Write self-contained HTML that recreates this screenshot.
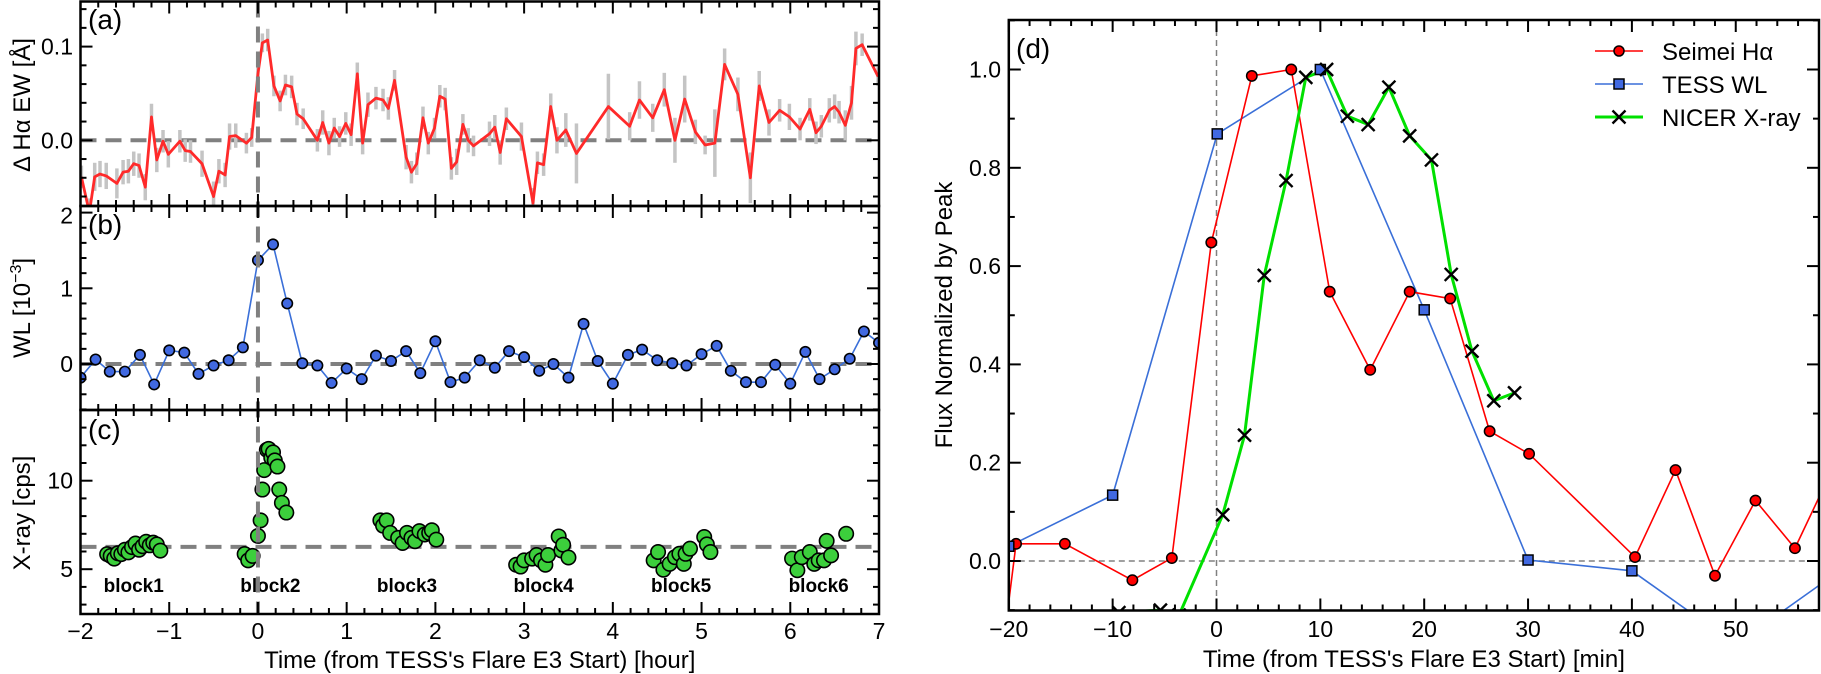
<!DOCTYPE html>
<html><head><meta charset="utf-8">
<style>
html,body{margin:0;padding:0;background:#fff;}
svg{display:block;font-family:"Liberation Sans",sans-serif;}
</style></head>
<body>
<svg id="fig" width="1821" height="674" viewBox="0 0 1821 674" xmlns="http://www.w3.org/2000/svg"></svg>
<script>
// ---------- Panel (a): delta H-alpha EW ----------
const haTime = [-1.99,-1.90,-1.84,-1.78,-1.71,-1.59,-1.52,-1.46,-1.40,-1.34,-1.27,-1.20,-1.14,-1.07,-1.01,-0.88,-0.82,-0.76,-0.63,-0.50,-0.44,-0.37,-0.32,-0.25,-0.13,-0.07,0.0,0.05,0.11,0.18,0.25,0.31,0.38,0.44,0.51,0.67,0.73,0.80,0.86,0.92,0.99,1.05,1.12,1.18,1.24,1.33,1.41,1.47,1.54,1.67,1.73,1.79,1.86,1.92,1.99,2.05,2.11,2.18,2.24,2.31,2.37,2.43,2.61,2.67,2.73,2.80,2.97,3.10,3.15,3.22,3.30,3.37,3.47,3.59,3.95,4.19,4.30,4.45,4.58,4.70,4.81,4.93,5.04,5.15,5.26,5.41,5.55,5.65,5.76,5.88,5.99,6.11,6.22,6.29,6.35,6.44,6.50,6.55,6.62,6.69,6.74,6.81,6.99];
const haEW = [-0.039,-0.077,-0.039,-0.036,-0.038,-0.046,-0.034,-0.033,-0.025,-0.027,-0.050,0.025,-0.021,-0.001,-0.015,-0.001,-0.011,-0.012,-0.025,-0.060,-0.033,-0.037,0.004,0.005,-0.003,0.003,0.071,0.104,0.107,0.058,0.042,0.059,0.057,0.028,0.023,0.000,0.019,-0.003,0.013,0.004,0.018,0.006,0.071,-0.003,0.038,0.045,0.043,0.034,0.064,-0.018,-0.034,-0.025,0.024,-0.003,0.013,0.047,0.044,-0.030,-0.023,0.017,0.000,-0.006,0.007,0.014,-0.013,0.023,0.004,-0.067,-0.024,-0.026,0.036,0.000,0.011,-0.014,0.036,0.015,0.043,0.024,0.054,0.000,0.044,0.009,-0.005,-0.003,0.081,0.049,-0.040,0.058,0.019,0.032,0.025,0.012,0.033,0.008,0.015,0.032,0.036,0.030,0.016,0.040,0.098,0.102,0.068];
const haErr = [0.012,0.015,0.015,0.014,0.014,0.016,0.013,0.013,0.013,0.013,0.014,0.014,0.013,0.012,0.014,0.012,0.012,0.012,0.014,0.016,0.013,0.013,0.014,0.013,0.011,0.010,0.010,0.010,0.012,0.011,0.011,0.011,0.012,0.012,0.011,0.012,0.013,0.013,0.011,0.011,0.012,0.012,0.012,0.012,0.013,0.012,0.012,0.012,0.011,0.013,0.012,0.012,0.012,0.012,0.011,0.012,0.012,0.012,0.014,0.011,0.013,0.011,0.013,0.013,0.013,0.012,0.015,0.016,0.012,0.012,0.014,0.014,0.018,0.032,0.035,0.015,0.020,0.015,0.018,0.024,0.025,0.013,0.010,0.036,0.017,0.018,0.027,0.016,0.014,0.012,0.014,0.012,0.012,0.012,0.012,0.013,0.013,0.012,0.016,0.018,0.018,0.012,0.010];
// ---------- Panel (b): TESS WL ----------
const wlTime = [-2.0,-1.83,-1.67,-1.5,-1.33,-1.17,-1.0,-0.83,-0.67,-0.5,-0.33,-0.17,0.0,0.17,0.33,0.5,0.67,0.83,1.0,1.17,1.33,1.5,1.67,1.83,2.0,2.17,2.33,2.5,2.67,2.83,3.0,3.17,3.33,3.5,3.67,3.83,4.0,4.17,4.33,4.5,4.67,4.83,5.0,5.17,5.33,5.5,5.67,5.83,6.0,6.17,6.33,6.5,6.67,6.83,7.0];
const wlFlux = [-0.18,0.06,-0.10,-0.10,0.12,-0.27,0.18,0.15,-0.13,-0.02,0.05,0.22,1.37,1.58,0.80,0.01,-0.02,-0.25,-0.06,-0.20,0.11,0.04,0.17,-0.12,0.30,-0.24,-0.18,0.05,-0.05,0.17,0.09,-0.09,0.00,-0.18,0.53,0.04,-0.26,0.12,0.19,0.05,0.01,-0.02,0.13,0.24,-0.09,-0.24,-0.24,-0.01,-0.26,0.16,-0.20,-0.07,0.07,0.43,0.28];
// ---------- Panel (c): NICER X-ray ----------
const xrTime = [-1.70,-1.66,-1.62,-1.58,-1.54,-1.50,-1.46,-1.42,-1.38,-1.34,-1.30,-1.26,-1.22,-1.18,-1.14,-1.10,
 -0.15,-0.11,-0.06,0.0,0.03,0.05,0.07,0.10,0.12,0.15,0.17,0.19,0.22,0.24,0.27,0.32,
 1.38,1.41,1.45,1.49,1.58,1.63,1.68,1.73,1.77,1.82,1.88,1.93,1.96,2.01,
 2.91,2.96,3.00,3.09,3.14,3.19,3.24,3.27,3.39,3.42,3.44,3.50,
 4.46,4.51,4.57,4.64,4.70,4.75,4.80,4.82,4.87,5.03,5.06,5.10,
 6.02,6.08,6.13,6.22,6.27,6.32,6.38,6.41,6.46,6.63];
const xrRate = [5.85,5.75,5.60,5.90,5.85,6.10,5.95,6.25,6.45,6.10,6.30,6.55,6.35,6.50,6.40,6.05,
 5.86,5.50,5.75,6.88,7.76,9.50,10.60,11.75,11.80,11.30,11.60,11.15,10.80,9.50,8.75,8.20,
 7.76,7.46,7.76,7.05,6.77,6.48,7.05,6.77,6.58,7.15,6.96,7.05,7.20,6.67,
 5.25,5.15,5.50,5.60,5.80,5.50,5.25,5.80,6.85,6.06,6.38,5.66,
 5.50,5.97,4.97,5.30,5.68,5.87,5.30,5.87,6.16,6.82,6.40,5.97,
 5.60,4.94,5.68,5.97,5.30,5.50,5.50,6.60,5.78,7.00];
const blockNames = ["block1","block2","block3","block4","block5","block6"];
const blockPos = [-1.4,0.14,1.68,3.22,4.77,6.32];
// ---------- Panel (d) ----------
const sTime = [-21,-19.3,-14.6,-8.1,-4.3,-0.5,3.4,7.2,10.9,14.8,18.6,22.5,26.3,30.1,40.3,44.2,48.0,51.9,55.7,59.6];
const sFlux = [-0.25,0.035,0.035,-0.039,0.006,0.648,0.987,1.0,0.548,0.389,0.548,0.534,0.264,0.218,0.008,0.185,-0.030,0.123,0.026,0.20];
const tTime = [-20,-10,0.07,10,20,30,40,50,60];
const tFlux = [0.03,0.134,0.869,1.0,0.511,0.002,-0.02,-0.17,-0.02];
const nTime = [-9.4,-5.4,-3.6,0.6,2.7,4.6,6.7,8.6,10.6,12.6,14.6,16.6,18.6,20.7,22.6,24.6,26.7,28.7];
const nFlux = [-0.105,-0.10,-0.11,0.094,0.256,0.581,0.774,0.984,1.0,0.905,0.888,0.964,0.865,0.816,0.583,0.427,0.326,0.342];
const xTicksH = [-2,-1,0,1,2,3,4,5,6,7];
const xTicksM = [-20,-10,0,10,20,30,40,50];
const yTicksD = [0.0,0.2,0.4,0.6,0.8,1.0];

const NS = "http://www.w3.org/2000/svg";
const svg = document.getElementById('fig');
function mk(tag, attrs, parent){
  const e = document.createElementNS(NS, tag);
  for (const k in attrs) e.setAttribute(k, attrs[k]);
  (parent||svg).appendChild(e);
  return e;
}
function txt(s, x, y, size, anchor, parent, extra){
  const e = mk('text', Object.assign({x:x, y:y, 'font-size':size, 'text-anchor':anchor||'middle', fill:'#000'}, extra||{}), parent);
  e.textContent = s;
  return e;
}
const TF = 23, AF = 24;
// scales
const LX0=80.5, LX1=879;
const X = h => LX0 + (h+2)*(LX1-LX0)/9;
const Ya = v => 140.3 - v*937;
const Yb = v => 364 - v*75.7;
const Yc = v => 480.7 - (v-10)*17.7;
const Xr = m => 1216.5 + m*10.385;
const Yr = v => 561 - v*491.5;
const RX0=1008.8, RX1=1819, RY0=20, RY1=610.5;

const defs = mk('defs', {});
function clip(id,x,y,w,h){ const c=mk('clipPath',{id:id},defs); mk('rect',{x:x,y:y,width:w,height:h},c); }
clip('ca',LX0,1.5,LX1-LX0,204.5);
clip('cb',LX0,206,LX1-LX0,204);
clip('cc',LX0,410,LX1-LX0,204);
clip('cd',RX0,RY0,RX1-RX0,RY1-RY0);

// ===== Panel (a) =====
const ga = mk('g',{'clip-path':'url(#ca)'});


let z = mk('line',{x1:LX0,x2:LX1,y1:Ya(0),y2:Ya(0),stroke:'#808080','stroke-width':4,'stroke-dasharray':'16,9'},ga);


for (let i=0;i<haTime.length;i++){
  const e = mk('line',{x1:X(haTime[i]),x2:X(haTime[i]),y1:Ya(haEW[i]-haErr[i]),y2:Ya(haEW[i]+haErr[i]),stroke:'#c4c4c4','stroke-width':3.5},ga);
  
  
}
const haLine = mk('polyline',{points:haTime.map((t,i)=>X(t)+','+Ya(haEW[i])).join(' '),fill:'none',stroke:'#ff2a2a','stroke-width':2.8,'stroke-linejoin':'round'},ga);



// ===== Panel (b) =====
const gb = mk('g',{'clip-path':'url(#cb)'});


z = mk('line',{x1:LX0,x2:LX1,y1:Yb(0),y2:Yb(0),stroke:'#808080','stroke-width':4,'stroke-dasharray':'16,9'},gb);


for (let i=0;i<wlTime.length;i++){
  const e = mk('line',{x1:X(wlTime[i]),x2:X(wlTime[i]),y1:Yb(wlFlux[i]-0.07),y2:Yb(wlFlux[i]+0.07),stroke:'#3a6fd8','stroke-width':1.2},gb);
  
  
}
const wlLine = mk('polyline',{points:wlTime.map((t,i)=>X(t)+','+Yb(wlFlux[i])).join(' '),fill:'none',stroke:'#3a6fd8','stroke-width':1.6},gb);


for (let i=0;i<wlTime.length;i++){
  const c = mk('circle',{cx:X(wlTime[i]),cy:Yb(wlFlux[i]),r:5.2,fill:'#4169e1',stroke:'#000','stroke-width':1.6},gb);
  
  
}

// ===== Panel (c) =====
const gc = mk('g',{'clip-path':'url(#cc)'});


z = mk('line',{x1:LX0,x2:LX1,y1:Yc(6.26),y2:Yc(6.26),stroke:'#808080','stroke-width':4,'stroke-dasharray':'16,9'},gc);


for (let i=0;i<xrTime.length;i++){
  const e = mk('line',{x1:X(xrTime[i]),x2:X(xrTime[i]),y1:Yc(xrRate[i]-0.35),y2:Yc(xrRate[i]+0.35),stroke:'#000','stroke-width':1.5},gc);
  
  
}
for (let i=0;i<xrTime.length;i++){
  const c = mk('circle',{cx:X(xrTime[i]),cy:Yc(xrRate[i]),r:7.2,fill:'#3ccf3c',stroke:'#000','stroke-width':1.6},gc);
  
  
}
for (let i=0;i<blockNames.length;i++){
  const t = txt(blockNames[i], X(blockPos[i]), 592, 19, 'middle', svg, {'font-weight':'bold'});
  
  
}

// vertical flare-start line spanning left panels
const vl = mk('line',{x1:X(0),x2:X(0),y1:1.5,y2:614,stroke:'#808080','stroke-width':4,'stroke-dasharray':'16,9'});



// ===== ticks helper =====
function tickLine(x1,y1,x2,y2,name){
  const e = mk('line',{x1:x1,y1:y1,x2:x2,y2:y2,stroke:'#000','stroke-width':2});
  
  
}
const panY = [[1.5,206],[206,410],[410,614]];
for (const [t,b] of panY){
  for (let k=0;k<=45;k++){
    const h = -2 + k*0.2;
    const major = k%5===0;
    const L = major?12:6;
    tickLine(X(h),b,X(h),b-L,'x-tick');
    tickLine(X(h),t,X(h),t+L,'x-tick');
  }
}
for (const h of xTicksH){
  const t = txt(String(h).replace('-','\u2212'), X(h), 639, TF);
  
  
}
for (let v=-0.06; v<=0.14; v+=0.02){
  const vv = Math.round(v*100)/100;
  const major = Math.abs(vv-0.1)<1e-6 || Math.abs(vv)<1e-6;
  const L = major?12:6;
  tickLine(LX0,Ya(vv),LX0+L,Ya(vv),'y-tick-a');
  tickLine(LX1,Ya(vv),LX1-L,Ya(vv),'y-tick-a');
}
[['0.1',0.1],['0.0',0]].forEach(p=>{const t=txt(p[0],73,Ya(p[1])+8,TF,'end');});
for (let k=-3;k<=10;k++){
  const v=k*0.2; const major = k%5===0; const L = major?12:6;
  if (Yb(v)<206||Yb(v)>410) continue;
  tickLine(LX0,Yb(v),LX0+L,Yb(v),'y-tick-b');
  tickLine(LX1,Yb(v),LX1-L,Yb(v),'y-tick-b');
}
[['2',2],['1',1],['0',0]].forEach(p=>{const t=txt(p[0],73,Yb(p[1])+8+(p[1]===2?3:0),TF,'end');});
for (let v=3; v<=13; v++){
  const major = v%5===0; const L = major?12:6;
  tickLine(LX0,Yc(v),LX0+L,Yc(v),'y-tick-c');
  tickLine(LX1,Yc(v),LX1-L,Yc(v),'y-tick-c');
}
[['10',10],['5',5]].forEach(p=>{const t=txt(p[0],73,Yc(p[1])+8,TF,'end');});

[[1.5,206,'panel-a-frame'],[206,410,'panel-b-frame'],[410,614,'panel-c-frame']].forEach(p=>{
  const r = mk('rect',{x:LX0,y:p[0],width:LX1-LX0,height:p[1]-p[0],fill:'none',stroke:'#000','stroke-width':2.5});
  
  
});
[['(a)',29],['(b)',234],['(c)',439]].forEach(p=>{const t=txt(p[0],88,p[1],28,'start');});
let yl = txt('\u0394 H\u03b1 EW [\u00c5]', 0,0,AF,'middle',svg,{transform:'translate(30,105) rotate(-90)'});


yl = txt('',0,0,AF,'middle',svg,{transform:'translate(30,308) rotate(-90)'});


yl.innerHTML = 'WL [10<tspan font-size="16" dy="-9">\u22123</tspan><tspan dy="9">]</tspan>';
yl = txt('X-ray [cps]',0,0,AF,'middle',svg,{transform:'translate(30,513) rotate(-90)'});


let xl = txt("Time (from TESS's Flare E3 Start) [hour]", (LX0+LX1)/2, 668, AF);



// ===== Panel (d) =====
const gd = mk('g',{'clip-path':'url(#cd)'});


z = mk('line',{x1:RX0,x2:RX1,y1:Yr(0),y2:Yr(0),stroke:'#808080','stroke-width':1.5,'stroke-dasharray':'6,4'},gd);


z = mk('line',{x1:Xr(0),x2:Xr(0),y1:RY0,y2:RY1,stroke:'#808080','stroke-width':1.5,'stroke-dasharray':'6,4'},gd);


let pl = mk('polyline',{points:tTime.map((t,i)=>Xr(t)+','+Yr(tFlux[i])).join(' '),fill:'none',stroke:'#3a6fd8','stroke-width':1.6},gd);


pl = mk('polyline',{points:sTime.map((t,i)=>Xr(t)+','+Yr(sFlux[i])).join(' '),fill:'none',stroke:'#ff0000','stroke-width':1.6},gd);


pl = mk('polyline',{points:nTime.map((t,i)=>Xr(t)+','+Yr(nFlux[i])).join(' '),fill:'none',stroke:'#00e000','stroke-width':3},gd);


for (let i=0;i<sTime.length;i++){
  const c = mk('circle',{cx:Xr(sTime[i]),cy:Yr(sFlux[i]),r:5.2,fill:'#ff0000',stroke:'#000','stroke-width':1.5},gd);
  
  
}
for (let i=0;i<tTime.length;i++){
  const c = mk('rect',{x:Xr(tTime[i])-5,y:Yr(tFlux[i])-5,width:10,height:10,fill:'#4169e1',stroke:'#000','stroke-width':1.5},gd);
  
  
}
for (let i=0;i<nTime.length;i++){
  const cx=Xr(nTime[i]), cy=Yr(nFlux[i]), s=6.5;
  const c = mk('path',{d:`M${cx-s},${cy-s}L${cx+s},${cy+s}M${cx-s},${cy+s}L${cx+s},${cy-s}`,stroke:'#000','stroke-width':2.4,fill:'none'},gd);
  
  
}
for (let m=-20;m<=56;m+=2){
  const major = m%10===0; const L=major?12:6;
  tickLine(Xr(m),RY1,Xr(m),RY1-L,'x-tick-d');
  tickLine(Xr(m),RY0,Xr(m),RY0+L,'x-tick-d');
}
for (const m of xTicksM){
  const t = txt(String(m).replace('-','\u2212'), Xr(m), 637, TF);
  
  
}
for (let k=-1;k<=11;k++){
  const v=k*0.1; const major = k%2===0; const L=major?12:6;
  tickLine(RX0,Yr(v),RX0+L,Yr(v),'y-tick-d');
  tickLine(RX1,Yr(v),RX1-L,Yr(v),'y-tick-d');
}
for (const v of yTicksD){
  const t = txt(v.toFixed(1), 1001, Yr(v)+8, TF, 'end');
  
  
}
let fr = mk('rect',{x:RX0,y:RY0,width:RX1-RX0,height:RY1-RY0,fill:'none',stroke:'#000','stroke-width':2.5});


let pd = txt('(d)',1016,58,28,'start');


yl = txt('Flux Normalized by Peak',0,0,AF,'middle',svg,{transform:'translate(952,315) rotate(-90)'});


xl = txt("Time (from TESS's Flare E3 Start) [min]", (RX0+RX1)/2, 667, AF);



// legend
const leg = mk('g',{});


const LgX0=1595, LgX1=1643, LgT=1662;
let ly=51;
let e = mk('line',{x1:LgX0,x2:LgX1,y1:ly,y2:ly,stroke:'#ff0000','stroke-width':1.6},leg);


e = mk('circle',{cx:(LgX0+LgX1)/2,cy:ly,r:5,fill:'#ff0000',stroke:'#000','stroke-width':1.5},leg);


e = txt('Seimei H\u03b1',LgT,ly+9,AF,'start',leg);


ly=84;
e = mk('line',{x1:LgX0,x2:LgX1,y1:ly,y2:ly,stroke:'#3a6fd8','stroke-width':1.6},leg);


e = mk('rect',{x:(LgX0+LgX1)/2-5,y:ly-5,width:10,height:10,fill:'#4169e1',stroke:'#000','stroke-width':1.5},leg);


e = txt('TESS WL',LgT,ly+9,AF,'start',leg);


ly=117;
e = mk('line',{x1:LgX0,x2:LgX1,y1:ly,y2:ly,stroke:'#00e000','stroke-width':3},leg);


const mx=(LgX0+LgX1)/2, s=6.5;
e = mk('path',{d:`M${mx-s},${ly-s}L${mx+s},${ly+s}M${mx-s},${ly+s}L${mx+s},${ly-s}`,stroke:'#000','stroke-width':2.4},leg);


e = txt('NICER X-ray',LgT,ly+9,AF,'start',leg);


</script>
</body></html>
